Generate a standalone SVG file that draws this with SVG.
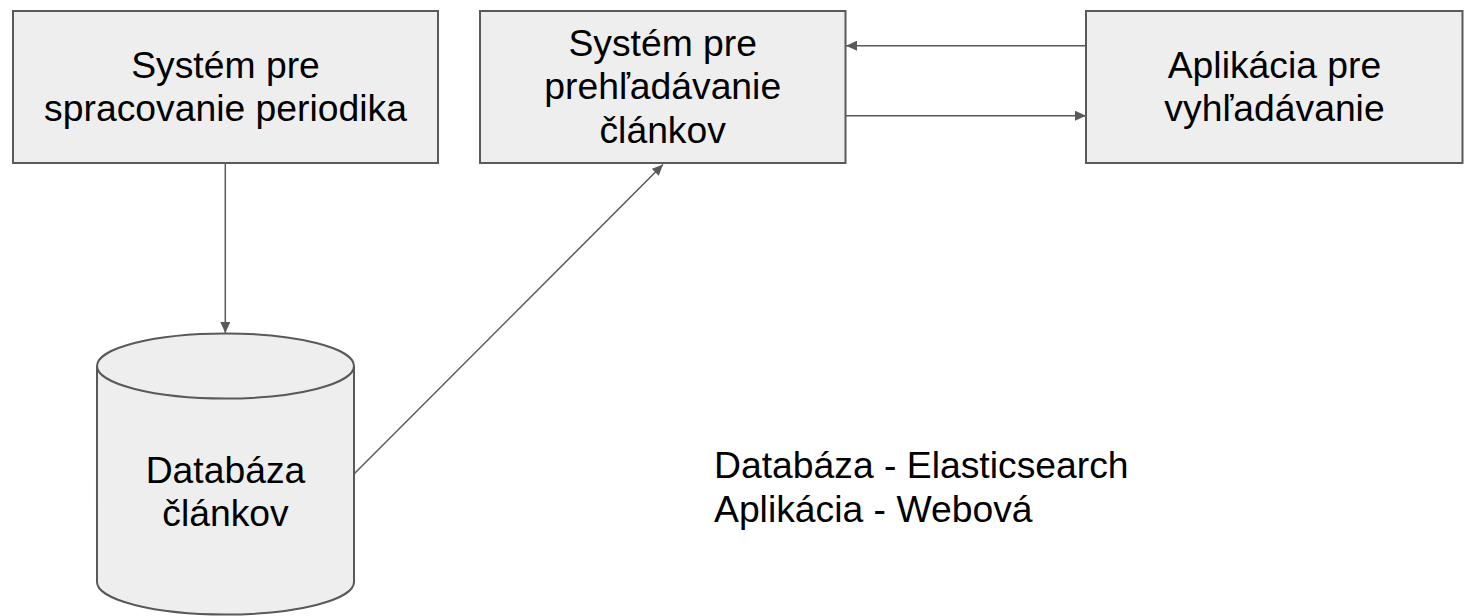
<svg xmlns="http://www.w3.org/2000/svg" width="1466" height="616" viewBox="0 0 1466 616">
  <style>
    .box { fill: #eeeeee; stroke: #595959; stroke-width: 2; }
    .lbl { font-family: "Liberation Sans", Arial, sans-serif; font-size: 37.3px; fill: #000000; text-anchor: middle; }
    .note { font-family: "Liberation Sans", Arial, sans-serif; font-size: 37.3px; fill: #000000; }
    .edge { fill: none; stroke: #595959; stroke-width: 1.5; marker-end: url(#arrow); }
  </style>
  <defs>
    <marker id="arrow" markerUnits="userSpaceOnUse" markerWidth="12" markerHeight="10" refX="11" refY="5" orient="auto">
      <path d="M0,0 L11,5 L0,10 Z" fill="#595959"/>
    </marker>
  </defs>
  <rect width="1466" height="616" fill="#ffffff"/>

  <g id="connectors">
    <line class="edge" x1="225.3" y1="164" x2="225.3" y2="333"/>
    <line class="edge" x1="354" y1="474" x2="663" y2="164.5"/>
    <line class="edge" x1="1086" y1="45.7" x2="846" y2="45.7"/>
    <line class="edge" x1="846" y1="115.7" x2="1086" y2="115.7"/>
  </g>

  <g id="node-spracovanie">
    <rect class="box" x="13" y="11" width="425" height="152"/>
    <text class="lbl" x="225.5" y="78">Systém pre</text>
    <text class="lbl" x="225.5" y="121.3">spracovanie periodika</text>
  </g>

  <g id="node-prehladavanie">
    <rect class="box" x="480" y="11" width="365.5" height="152"/>
    <text class="lbl" x="662.7" y="56">Systém pre</text>
    <text class="lbl" x="662.7" y="99.3">prehľadávanie</text>
    <text class="lbl" x="662.7" y="142.6">článkov</text>
  </g>

  <g id="node-aplikacia">
    <rect class="box" x="1086" y="11" width="376.5" height="152"/>
    <text class="lbl" x="1274.5" y="78">Aplikácia pre</text>
    <text class="lbl" x="1274.5" y="121.3">vyhľadávanie</text>
  </g>

  <g id="node-databaza">
    <path class="box" d="M97,366 A128.5,32.5 0 0 1 354,366 L354,582 A128.5,32.5 0 0 1 97,582 Z"/>
    <path d="M97,366 A128.5,32.5 0 0 0 354,366" fill="none" stroke="#595959" stroke-width="2"/>
    <text class="lbl" x="225.5" y="482.7">Databáza</text>
    <text class="lbl" x="225.5" y="526">článkov</text>
  </g>

  <g id="note">
    <text class="note" x="714" y="478.3">Databáza - Elasticsearch</text>
    <text class="note" x="714" y="521.6">Aplikácia - Webová</text>
  </g>
</svg>
